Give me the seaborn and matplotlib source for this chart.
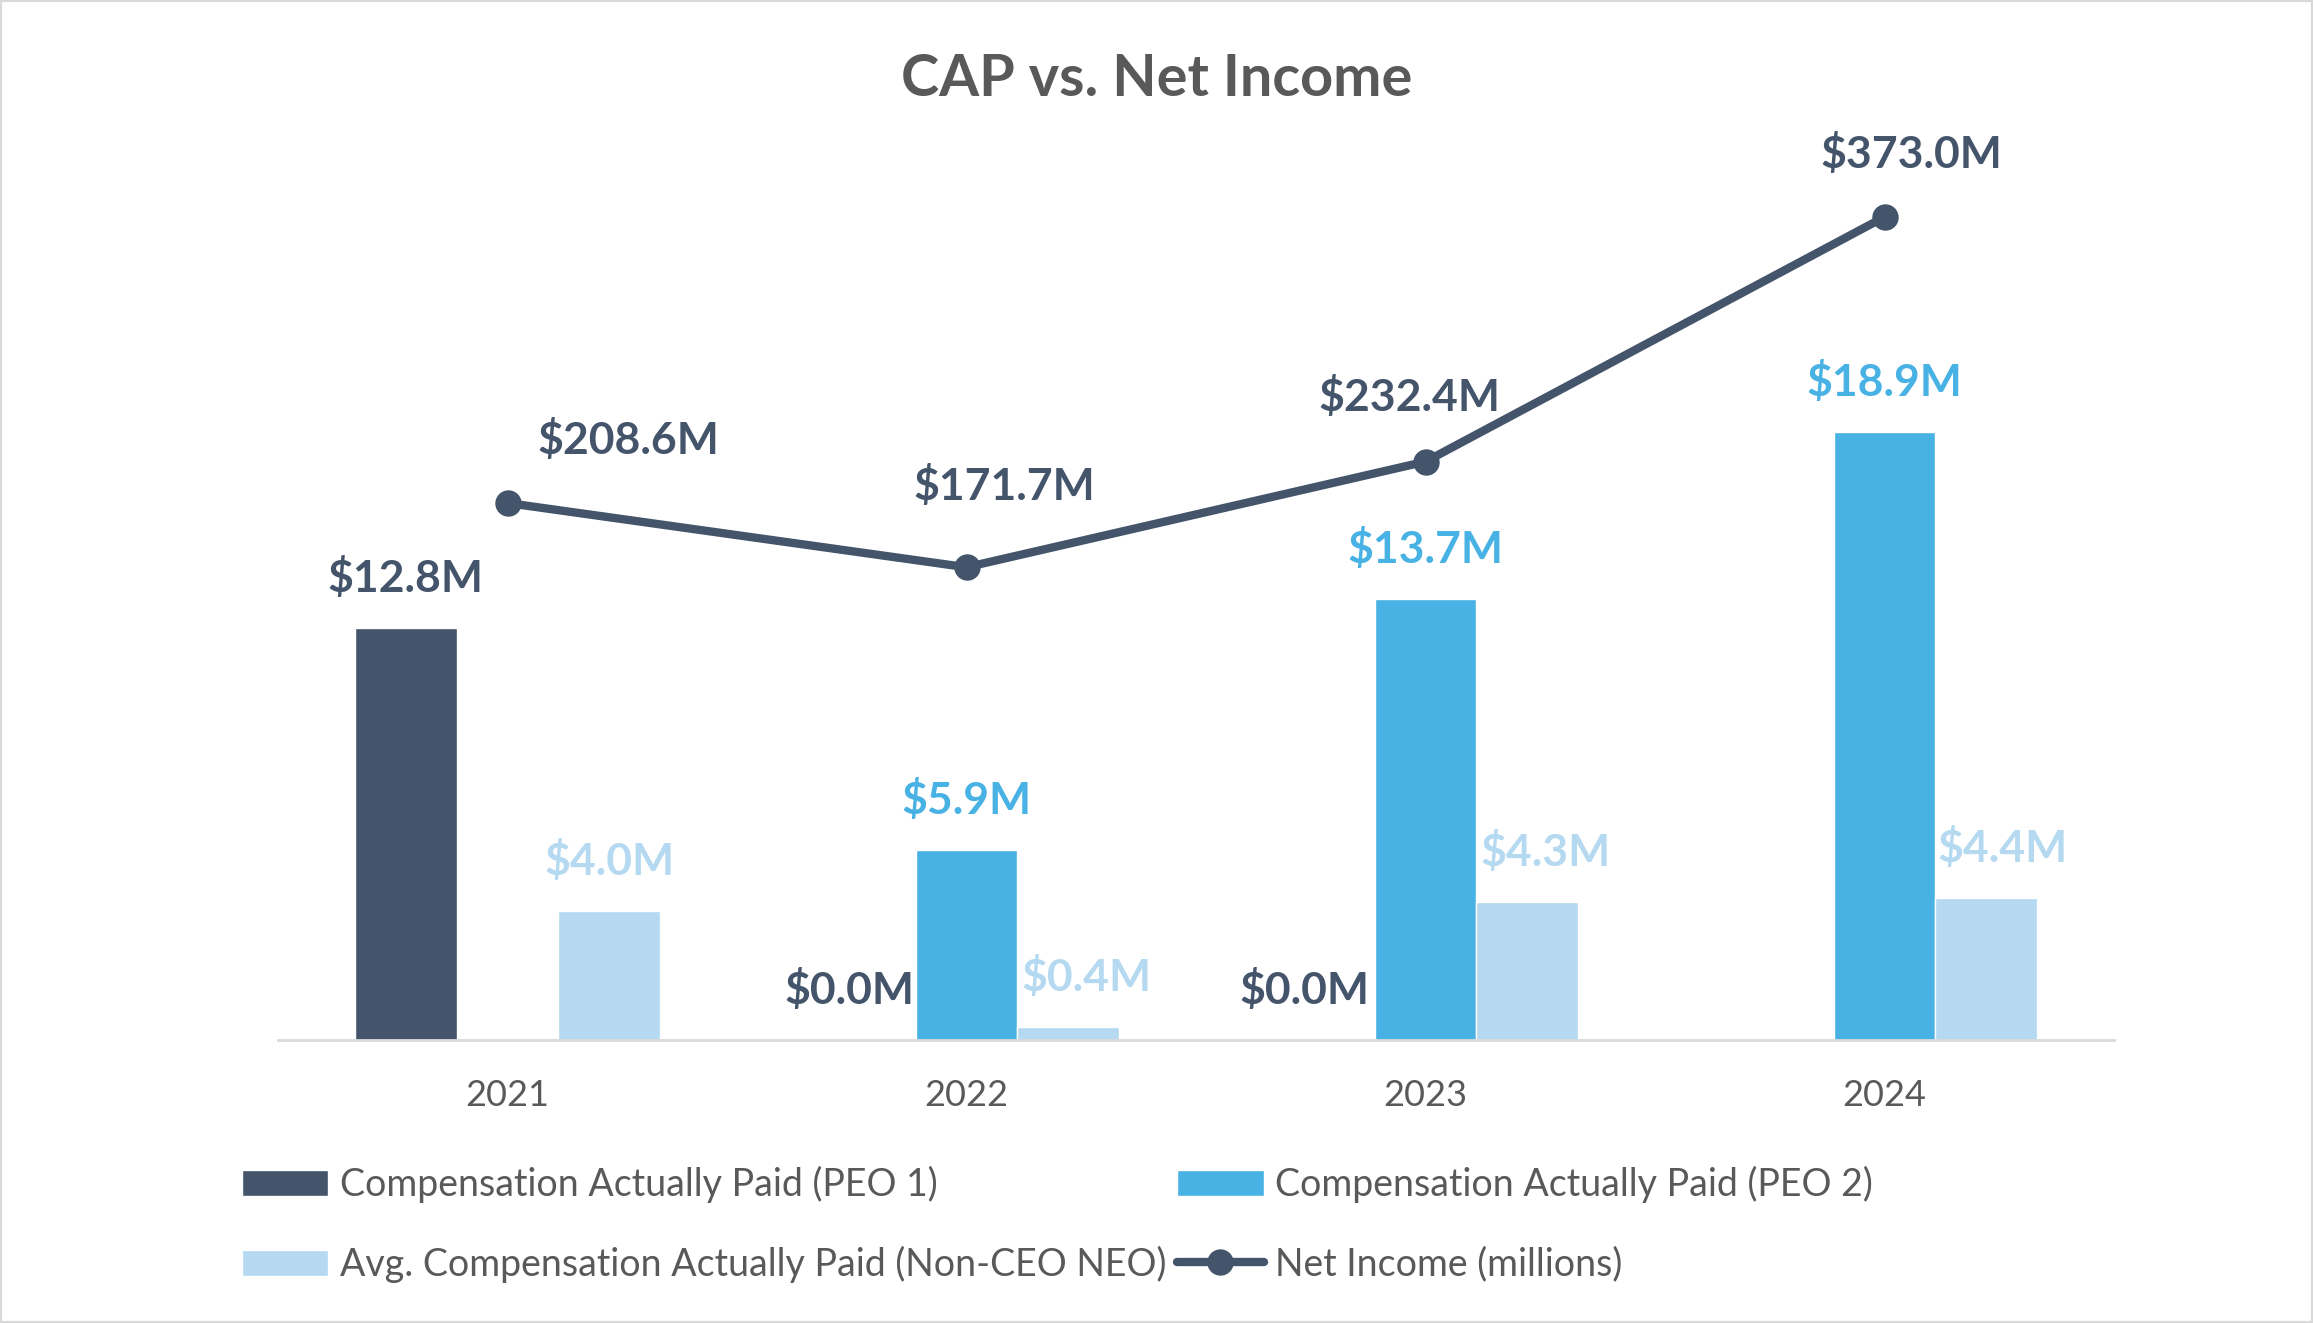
import numpy as np
import pandas as pd
import matplotlib
matplotlib.use("Agg")
import matplotlib.pyplot as plt
import seaborn as sns
from matplotlib.patches import Rectangle

# ---------------- data ----------------
years = ["2021", "2022", "2023", "2024"]
cap_peo1 = [12.8, 0.0, 0.0, np.nan]
cap_peo2 = [np.nan, 5.9, 13.7, 18.9]
cap_neo = [4.0, 0.4, 4.3, 4.4]
net_income = [208.6, 171.7, 232.4, 373.0]

series_names = [
    "Compensation Actually Paid (PEO 1)",
    "Compensation Actually Paid (PEO 2)",
    "Avg. Compensation Actually Paid (Non-CEO NEO)",
]
line_name = "Net Income (millions)"
title_text = "CAP vs. Net Income"

# ---------------- style ----------------
NAVY = "#44546A"
BLUE = "#49B2E4"
LIGHT = "#B4D9F1"
GREY_TXT = "#595959"
GRID = "#D9D9D9"
colors = [NAVY, BLUE, LIGHT]

sns.set_style("white")
plt.rcParams["font.family"] = ["Lato", "DejaVu Sans"]

W, H = 2313, 1323
fig = plt.figure(figsize=(W / 100, H / 100), dpi=100)
ax = fig.add_axes([278 / W, 1 - 1040 / H, 1836 / W, 870 / H])

df = pd.DataFrame({
    "Year": years * 3,
    "Series": [series_names[0]] * 4 + [series_names[1]] * 4 + [series_names[2]] * 4,
    "Value": cap_peo1 + cap_peo2 + cap_neo,
})

BW = 0.666  # total group width
sns.barplot(data=df, x="Year", y="Value", hue="Series", order=years,
            hue_order=series_names, palette=colors, width=BW, gap=0,
            saturation=1, errorbar=None, ax=ax, legend=True)
bar_handles, bar_labels = ax.get_legend_handles_labels()
if ax.get_legend() is not None:
    ax.get_legend().remove()

ax.set_xlim(-0.5, 3.5)
ax.set_ylim(0, 27.05)
ax.set_xlabel("")
ax.set_ylabel("")
ax.set_yticks([])
for s in ["top", "right", "left"]:
    ax.spines[s].set_visible(False)
ax.spines["bottom"].set_color(GRID)
ax.spines["bottom"].set_linewidth(2)
ax.tick_params(axis="x", length=0, pad=28, labelsize=26, labelcolor=GREY_TXT)

# secondary axis with the line
ax2 = ax.twinx()
sns.lineplot(x=np.arange(len(years)), y=net_income, ax=ax2, color=NAVY,
             linewidth=6, marker="o", markersize=19, markeredgewidth=0,
             label=line_name, legend=False)
ax2.set_ylim(-100, 400)
ax2.set_yticks([])
ax2.set_ylabel("")
for s in ax2.spines.values():
    s.set_visible(False)
ax.set_xlim(-0.5, 3.5)

# ---------------- data labels ----------------
bw = BW / 3
series_vals = [cap_peo1, cap_peo2, cap_neo]
label_nudge = {  # (series, year index): dx in pixels
    (0, 1): -15, (0, 2): -19,
    (2, 1): 18, (2, 2): 18, (2, 3): 16,
}
for j, vals in enumerate(series_vals):
    for i, v in enumerate(vals):
        if np.isnan(v):
            continue
        x = i + (j - 1) * bw
        ax2.annotate(f"${v:.1f}M", xy=(x, v), xycoords=("data", ax.transData),
                     xytext=(label_nudge.get((j, i), 0), 50),
                     textcoords="offset pixels", ha="center", va="center",
                     fontsize=32, fontweight="bold", color=colors[j])

line_offsets = [(121, 63), (38, 81), (-16, 65), (27, 63)]
for i, v in enumerate(net_income):
    ax2.annotate(f"${v:.1f}M", xy=(i, v), xytext=line_offsets[i],
                 textcoords="offset pixels", ha="center", va="center",
                 fontsize=32, fontweight="bold", color=NAVY)

# ---------------- title ----------------
fig.text(0.5, 1 - 80 / H, title_text, ha="center", va="center",
         fontsize=41.5, fontweight="bold", color=GREY_TXT)

# ---------------- legend ----------------
line_handle = ax2.get_lines()[0]
handles = [bar_handles[0], bar_handles[2], bar_handles[1], line_handle]
labels = [series_names[0], series_names[2], series_names[1], line_name]
fig.legend(handles, labels, loc="upper left", bbox_to_anchor=(242 / W, 1 - 1166 / H),
           ncol=2, frameon=False, fontsize=27, labelcolor=GREY_TXT,
           handlelength=2.3, handleheight=0.7, handletextpad=0.3,
           columnspacing=0.3, labelspacing=1.15, borderpad=0, borderaxespad=0)

# figure border
fig.patches.append(Rectangle((0, 0), 1, 1, transform=fig.transFigure, fill=False,
                             edgecolor=GRID, linewidth=3))

fig.savefig("out.png", dpi=100)
